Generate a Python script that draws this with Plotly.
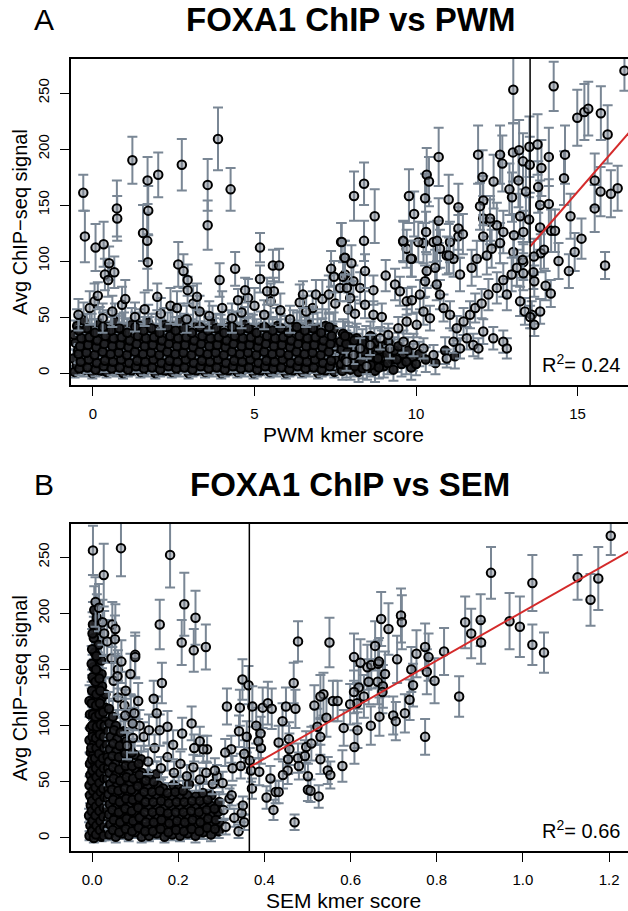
import plotly.graph_objects as go

# ------------------------------------------------------------------ data
# Panel A : FOXA1 ChIP vs PWM  (x = PWM kmer score, y = avg ChIP-seq signal, e = s.e.)
A_band_x = [
 -0.57,-0.50,-0.61,-0.46,-0.54,-0.59,-0.49,
 -0.27,-0.34,-0.22,-0.31,-0.25,-0.37,-0.29,
 -0.02,-0.09,0.02,-0.06,0.01,-0.11,-0.04,
 0.23,0.16,0.27,0.18,0.24,0.13,0.21,
 0.42,0.49,0.38,0.47,0.41,0.52,0.44,
 0.73,0.66,0.70,0.77,0.64,0.71,0.68,
 0.93,0.99,0.90,0.97,1.01,0.92,0.96,
 1.18,1.24,1.15,1.22,1.17,1.25,1.20,
 1.47,1.41,1.50,1.43,1.48,1.40,1.45,
 1.68,1.74,1.66,1.72,1.69,1.75,1.71,
 1.93,1.98,1.90,1.96,1.92,2.00,1.95,
 2.22,2.17,2.25,2.19,2.23,2.16,2.21,
 2.44,2.49,2.42,2.47,2.43,2.50,2.46,
 2.68,2.73,2.66,2.71,2.69,2.74,2.70,
 2.96,2.91,2.98,2.93,2.97,2.90,2.94,
 3.19,3.24,3.17,3.22,3.18,3.25,3.21,
 3.47,3.42,3.49,3.44,3.48,3.41,3.45,
 3.68,3.73,3.66,3.71,3.69,3.75,3.70,
 3.97,3.92,3.99,3.94,3.96,3.91,3.95,
 4.18,4.23,4.16,4.21,4.19,4.25,4.20,
 4.47,4.42,4.49,4.44,4.46,4.41,4.45,
 4.68,4.73,4.66,4.71,4.69,4.75,4.70,
 4.97,4.92,4.99,4.94,4.96,4.91,4.95,
 5.18,5.23,5.16,5.21,5.19,5.25,5.20,
 5.47,5.42,5.49,5.44,5.46,5.41,5.45,
 5.68,5.73,5.66,5.71,5.69,5.75,5.70,
 5.97,5.92,5.99,5.94,5.96,5.91,5.95,
 6.18,6.23,6.16,6.21,6.19,6.25,6.20,
 6.47,6.42,6.49,6.44,6.46,6.41,6.45,
 6.68,6.73,6.66,6.71,6.69,6.75,6.70,
 6.97,6.92,6.99,6.94,6.96,6.91,6.95,
 7.18,7.23,7.16,7.21,7.19,7.25,7.20,
 7.47,7.42,7.49,7.44,7.46,7.41,7.45,
]
A_band_y = [
 1,7,13,20,27,34,42,   3,10,16,23,30,38,47,   0,5,11,17,24,31,39,
 2,8,15,21,29,36,44,   1,6,12,19,26,33,41,   3,9,16,22,30,37,46,
 0,6,13,19,25,32,40,   2,8,14,21,28,35,43,   1,7,13,20,26,34,42,
 3,9,15,22,29,36,45,   0,5,12,18,25,32,39,   2,8,14,21,27,35,43,
 1,7,13,19,26,33,41,   3,9,16,22,29,37,46,   0,6,12,18,25,31,38,
 2,8,14,20,27,34,42,   1,7,13,19,26,33,40,   3,9,15,22,28,35,44,
 0,5,11,18,24,31,38,   2,8,14,20,27,34,41,   1,6,12,19,25,32,39,
 3,9,15,21,28,35,43,   0,6,12,18,24,31,38,   2,7,13,20,26,33,40,
 1,6,12,18,25,31,39,   3,9,15,21,28,34,42,   0,5,11,17,24,30,37,
 2,8,14,20,26,33,41,   1,7,13,19,25,32,40,   3,8,14,21,27,34,43,
 0,6,12,18,25,32,40,   2,7,13,19,26,33,42,   1,6,12,18,24,31,39,
]
A_band_e = [
 5,7,8,10,11,13,15,  6,7,9,10,12,14,16,  5,6,8,9,11,12,14,  4,6,7,9,10,12,15,
 5,7,8,10,11,13,15,  6,7,9,10,12,14,16,  5,6,8,9,11,12,14,  4,6,7,9,10,12,15,
 5,7,8,10,11,13,15,  6,7,9,10,12,14,16,  5,6,8,9,11,12,14,  4,6,7,9,10,12,15,
 5,7,8,10,11,13,15,  6,7,9,10,12,14,16,  5,6,8,9,11,12,14,  4,6,7,9,10,12,15,
 5,7,8,10,11,13,15,  6,7,9,10,12,14,16,  5,6,8,9,11,12,14,  4,6,7,9,10,12,15,
 5,7,8,10,11,13,15,  6,7,9,10,12,14,16,  5,6,8,9,11,12,14,  4,6,7,9,10,12,15,
 5,7,8,10,11,13,15,  6,7,9,10,12,14,16,  5,6,8,9,11,12,14,  4,6,7,9,10,12,15,
 5,7,8,10,11,13,15,  6,7,9,10,12,14,16,  5,6,8,9,11,12,14,  4,6,7,9,10,12,15,
 5,7,8,10,11,13,15,
]
A_band2_x = [
 -0.42,-0.38,-0.45,-0.40,-0.36,-0.44,  -0.17,-0.13,-0.20,-0.15,-0.11,-0.19,
 0.08,0.12,0.05,0.10,0.14,0.06,  0.33,0.37,0.30,0.35,0.39,0.31,
 0.58,0.62,0.55,0.60,0.64,0.56,  0.83,0.87,0.80,0.85,0.89,0.81,
 1.08,1.12,1.05,1.10,1.14,1.06,  1.33,1.37,1.30,1.35,1.39,1.31,
 1.58,1.62,1.55,1.60,1.64,1.56,  1.83,1.87,1.80,1.85,1.89,1.81,
 2.08,2.12,2.05,2.10,2.14,2.06,  2.33,2.37,2.30,2.35,2.39,2.31,
 2.58,2.62,2.55,2.60,2.64,2.56,  2.83,2.87,2.80,2.85,2.89,2.81,
 3.08,3.12,3.05,3.10,3.14,3.06,  3.33,3.37,3.30,3.35,3.39,3.31,
 3.58,3.62,3.55,3.60,3.64,3.56,  3.83,3.87,3.80,3.85,3.89,3.81,
 4.08,4.12,4.05,4.10,4.14,4.06,  4.33,4.37,4.30,4.35,4.39,4.31,
 4.58,4.62,4.55,4.60,4.64,4.56,  4.83,4.87,4.80,4.85,4.89,4.81,
 5.08,5.12,5.05,5.10,5.14,5.06,  5.33,5.37,5.30,5.35,5.39,5.31,
 5.58,5.62,5.55,5.60,5.64,5.56,  5.83,5.87,5.80,5.85,5.89,5.81,
 6.08,6.12,6.05,6.10,6.14,6.06,  6.33,6.37,6.30,6.35,6.39,6.31,
 6.58,6.62,6.55,6.60,6.64,6.56,  6.83,6.87,6.80,6.85,6.89,6.81,
 7.08,7.12,7.05,7.10,7.14,7.06,  7.33,7.37,7.30,7.35,7.39,7.31,
]
A_band2_y = [
 4,10,17,24,31,38,  5,12,18,25,32,40,  3,9,16,23,29,36,  6,11,19,26,33,41,
 4,10,17,24,31,38,  5,12,18,25,32,40,  3,9,16,23,29,36,  6,11,19,26,33,41,
 4,10,17,24,31,38,  5,12,18,25,32,40,  3,9,16,23,29,36,  6,11,19,26,33,41,
 4,10,17,24,31,38,  5,12,18,25,32,40,  3,9,16,23,29,36,  6,11,19,26,33,41,
 4,10,17,24,31,38,  5,12,18,25,32,40,  3,9,16,23,29,36,  6,11,19,26,33,41,
 4,10,17,24,31,38,  5,12,18,25,32,40,  3,9,16,23,29,36,  6,11,19,26,33,41,
 4,10,17,24,31,38,  5,12,18,25,32,40,  3,9,16,23,29,36,  6,11,19,26,33,41,
 4,10,17,24,31,38,  5,12,18,25,32,40,  3,9,16,23,29,36,  6,11,19,26,33,41,
]
A_band2_e = [
 6,7,8,10,11,12,  5,7,9,10,12,13,  6,6,8,9,11,12,  5,7,8,10,11,13,
 6,7,8,10,11,12,  5,7,9,10,12,13,  6,6,8,9,11,12,  5,7,8,10,11,13,
 6,7,8,10,11,12,  5,7,9,10,12,13,  6,6,8,9,11,12,  5,7,8,10,11,13,
 6,7,8,10,11,12,  5,7,9,10,12,13,  6,6,8,9,11,12,  5,7,8,10,11,13,
 6,7,8,10,11,12,  5,7,9,10,12,13,  6,6,8,9,11,12,  5,7,8,10,11,13,
 6,7,8,10,11,12,  5,7,9,10,12,13,  6,6,8,9,11,12,  5,7,8,10,11,13,
 6,7,8,10,11,12,  5,7,9,10,12,13,  6,6,8,9,11,12,  5,7,8,10,11,13,
 6,7,8,10,11,12,  5,7,9,10,12,13,  6,6,8,9,11,12,  5,7,8,10,11,13,
]
A_top_x = [-0.45,-0.10,0.30,0.60,0.90,1.30,1.60,2.10,2.40,2.90,3.30,3.60,4.00,4.30,4.60,
           5.00,5.30,5.80,6.10,6.40,6.80,7.10,7.50,0.05,1.00,2.60,3.10,4.80,5.50,6.60,7.30,7.90]
A_top_y = [52,58,49,55,61,50,57,53,60,48,55,51,58,49,54,60,52,56,48,63,58,66,62,64,66,58,62,67,64,55,70,57]
A_top_e = [14,15,13,14,16,13,15,14,16,12,14,13,15,13,14,16,13,15,12,16,15,17,16,16,17,15,16,17,16,14,17,15]

A_knee_x = [7.72,7.68,7.75,7.70,7.66,7.74, 7.97,7.93,8.00,7.95,7.91, 8.22,8.18,8.25,8.20,8.16,
            8.48,8.44,8.51,8.46, 8.73,8.69,8.76,8.71, 9.00,8.96,9.03, 9.30,9.27,9.33, 9.55,9.60, 9.85,9.90,
            7.85,7.82,7.88,7.84,7.80, 8.10,8.07,8.13,8.09, 8.35,8.32,8.38,8.34, 8.60,8.57,8.63,8.59,
            8.85,8.82,8.88, 9.12,9.10,9.15, 9.40,9.45, 9.70,9.75, 10.00,10.10, 10.30,10.60,10.90,11.20]
A_knee_y = [2,8,14,21,28,35, 3,10,17,24,32, 1,8,15,23,31, 4,12,20,29, 2,10,18,27, 6,14,24, 3,12,20, 8,17, 5,14,
            5,12,19,26,33, 6,13,21,29, 4,11,19,27, 7,15,23,33, 5,13,21, 9,17,28, 12,24, 10,20, 8,17, 12,9,20,15]
A_knee_e = [8,9,10,11,12,13, 9,10,11,12,13, 9,10,11,12,13, 10,11,12,13, 10,11,12,13, 10,11,13, 10,11,12, 11,12, 11,12,
            9,10,11,12,13, 9,10,11,12, 9,10,11,12, 10,11,12,13, 10,11,12, 10,11,12, 11,12, 11,12, 10,11, 11,10,12,11]

A_mid_x = [7.80,8.06,8.27,8.68,7.96,8.42,8.11,8.68,8.94,9.35,
 9.50,9.71,9.87,10.12,10.28,10.33,10.59,10.64,10.74,10.85,
 11.05,10.23,10.43,10.02,9.71,9.45,9.14,8.89,8.58,8.27,
 8.06,7.85,8.47,9.19,9.61,9.92,10.23,10.54,10.95,11.16,
 11.36,11.57,11.77,11.93,12.08,12.39,12.70,12.81,11.26,11.47,
 11.67,11.83,12.03,12.24,12.50,12.70,12.81,12.96,13.12,13.32,
 13.22,13.37,13.58,13.01,12.60,12.34,12.19,11.88,11.72,11.36,
 11.16,10.95,10.74,10.54,10.23,10.07,9.71,9.61,9.87,11.05,
 11.31,12.08,12.50,12.70,12.08,12.29]
A_mid_y = [88,82,76,74,67,61,53,52,50,79,
 73,64,65,70,82,91,94,79,70,58,
 52,55,49,43,46,40,34,31,25,22,
 16,10,6,22,28,25,22,16,13,28,
 22,31,25,22,37,31,28,22,40,46,
 52,58,62,70,76,83,70,88,94,99,
 64,55,52,108,116,111,105,102,94,88,
 102,105,111,117,116,117,111,117,102,117,
 122,122,132,126,138,135]
A_mid_e = [15,14,14,13,13,12,12,12,12,14,
 13,12,12,13,14,15,16,14,13,12,
 12,12,11,11,11,10,10,10,9,9,
 8,8,7,9,10,10,9,9,8,10,
 9,10,10,9,11,10,10,9,11,12,
 12,13,13,14,14,15,14,15,16,16,
 13,12,12,17,18,17,17,16,16,15,
 16,17,17,18,18,18,17,18,16,18,
 19,19,20,19,20,20]

A_hi_x = [-0.30,-0.25,0.08,0.33,0.50,0.37,0.47,0.66,0.15,0.74,
 0.75,1.22,1.55,1.69,1.71,1.68,1.70,2.02,1.99,2.75,
 2.64,2.80,2.93,2.93,3.22,3.55,3.55,3.87,4.26,3.92,
 4.40,5.17,5.17,5.57,5.76,5.60,5.39,4.71,4.49,6.90,
 6.50,7.37,7.68,7.78,7.46,7.65,7.74,7.86]
A_hi_y = [161,122,112,115,98,88,83,90,69,147,
 138,190,125,172,145,118,99,177,68,186,
 97,91,83,74,68,168,132,209,164,83,
 93,112,84,96,96,73,73,74,65,70,
 70,93,117,103,86,76,86,76]
A_hi_e = [16,23,21,20,15,14,15,14,12,25,
 20,21,25,21,22,25,25,20,12,23,
 20,15,14,12,12,23,22,28,19,15,
 15,13,12,14,15,12,12,11,10,13,
 12,16,17,15,14,12,13,12]

A_r_x = [8.39,8.08,8.72,8.39,7.70,7.80,8.00,8.42,9.06,9.60,
 9.84,9.78,9.94,10.28,10.31,10.33,10.40,10.70,10.70,10.65,
 11.01,11.31,11.31,11.45,11.02,11.92,12.06,12.08,11.98,12.40,
 12.29,12.60,12.67,13.01,13.00,13.19,13.31,13.52,13.51,13.17,
 12.89,12.97,13.40,13.50,13.22,13.03,13.32,13.30,13.32,13.63,
 13.76,13.88,14.11,13.78,13.84,14.11,13.84,14.18,14.30,13.86,
 13.96,14.41,13.65,13.66,14.01,14.17,13.84,13.53,13.66,14.26,
 14.61,14.58,14.78,15.12,14.91,14.73,15.85,14.99,15.21,15.33,
 15.72,15.93,15.53,15.53,15.71,16.03,16.24,16.45]
A_r_y = [169,158,140,118,117,103,98,91,87,118,
 102,158,142,156,126,177,171,193,136,118,
 155,148,129,124,105,195,175,154,149,171,
 138,195,187,253,197,199,189,186,202,172,
 164,157,162,137,140,123,126,101,89,90,
 204,183,193,166,150,151,130,127,127,107,
 110,100,104,82,78,71,55,50,43,256,
 195,174,140,120,108,91,96,228,233,236,
 232,213,172,147,162,160,165,270]
A_r_e = [19,22,24,18,17,15,16,15,14,18,
 16,24,20,22,18,24,22,26,20,18,
 22,21,19,18,16,26,24,22,21,24,
 20,26,25,30,26,27,25,25,27,24,
 23,22,23,20,20,19,19,16,15,15,
 27,25,26,23,22,22,20,19,19,17,
 17,16,16,14,13,12,11,10,10,22,
 26,24,20,18,17,15,12,25,25,24,
 24,26,24,21,22,21,20,18]

A_thresh = 13.53
A_fit_x = [13.53, 16.6]
A_fit_y = [113, 215]
A_r2 = "0.24"
A_xticks = [0, 5, 10, 15]
A_yticks = [0, 50, 100, 150, 200, 250]

# Panel B : FOXA1 ChIP vs SEM
B_col_x = [
 -0.006,-0.004,-0.007,-0.003,-0.005,-0.006,-0.004,-0.005,-0.003,-0.006,-0.004,-0.005,-0.006,
 0.004,0.003,0.005,0.004,0.002,0.005,0.003,0.004,0.006,0.003,0.004,0.002,0.005,0.004,0.003,0.005,0.004,0.003,0.006,0.004,0.002,0.005,
 0.013,0.012,0.014,0.013,0.011,0.014,0.012,0.013,0.015,0.012,0.013,0.011,0.014,0.013,0.012,0.014,0.013,0.012,0.015,0.013,0.011,
 0.022,0.021,0.023,0.022,0.020,0.023,0.021,0.022,0.024,0.021,0.022,0.020,0.023,0.022,0.021,0.023,0.022,0.021,
 0.031,0.030,0.032,0.031,0.029,0.032,0.030,0.031,0.033,0.030,0.031,0.029,0.032,0.031,
 0.000,0.001,-0.001,0.000,0.002,-0.001,0.001,0.000,-0.002,0.001,0.000,0.002,-0.001,0.000,0.001,-0.001,0.000,0.001,
 0.009,0.010,0.008,0.009,0.011,0.008,0.010,0.009,0.007,0.010,0.009,0.011,0.008,0.009,0.010,0.008,0.009,0.010,
 0.018,0.019,0.017,0.018,0.020,0.017,0.019,0.018,0.016,0.019,0.018,0.020,0.017,0.018,0.019,0.017,
 0.027,0.028,0.026,0.027,0.029,0.026,0.028,0.027,0.025,0.028,0.027,0.029,0.026,
 0.036,0.037,0.035,0.036,0.038,0.035,0.037,0.036,0.034,0.037,
]
B_col_y = [
 2,11,20,29,38,47,56,66,76,87,98,110,122,
 0,8,16,24,33,41,50,58,67,75,84,93,102,111,120,130,141,152,165,178,190,203,
 4,12,21,29,37,46,54,63,71,80,89,97,106,115,125,136,148,160,172,185,196,
 1,9,18,26,35,43,52,60,69,78,86,95,104,114,124,135,146,158,
 5,14,22,31,40,48,57,66,75,84,94,104,116,128,
 6,15,24,33,42,51,60,70,80,90,100,110,120,131,143,155,168,182,
 3,11,20,28,37,45,54,62,71,80,89,99,108,118,128,139,150,162,
 7,15,24,32,41,49,58,66,75,84,92,101,110,120,131,142,
 2,10,19,27,36,44,53,62,71,80,90,100,112,
 8,17,26,35,44,53,62,72,83,95,
]
B_col_e = [
 4,5,6,6,7,8,8,9,10,11,12,13,14,
 4,5,5,6,7,7,8,9,9,10,11,12,13,13,14,15,16,17,18,19,20,21,
 4,5,6,6,7,8,8,9,10,10,11,12,13,14,15,16,17,18,19,20,21,
 4,5,5,6,7,8,8,9,10,10,11,12,13,14,15,16,17,18,
 4,5,6,7,7,8,9,10,10,11,12,13,14,15,
 4,5,6,6,7,8,8,9,10,11,12,12,13,14,15,16,18,19,
 4,5,5,6,7,8,8,9,10,10,11,12,13,14,15,16,17,18,
 5,5,6,7,7,8,9,9,10,11,12,12,13,14,15,16,
 4,5,6,6,7,8,8,9,10,11,12,13,14,
 5,6,6,7,8,9,10,11,12,13,
]
B_band_x = [
 0.040,0.042,0.039,0.041,0.038,0.042,0.040,0.039,0.041,0.043,0.040,0.039,
 0.055,0.057,0.054,0.056,0.053,0.057,0.055,0.054,0.056,0.058,0.055,
 0.070,0.072,0.069,0.071,0.068,0.072,0.070,0.069,0.071,0.073,
 0.085,0.087,0.084,0.086,0.083,0.087,0.085,0.084,0.086,
 0.100,0.102,0.099,0.101,0.098,0.102,0.100,0.099,
 0.115,0.117,0.114,0.116,0.113,0.117,0.115,0.114,
 0.132,0.130,0.134,0.131,0.133,0.129,0.132,
 0.150,0.152,0.148,0.151,0.149,0.153,0.150,
 0.168,0.166,0.170,0.167,0.169,0.165,
 0.186,0.188,0.184,0.187,0.185,0.189,
 0.204,0.202,0.206,0.203,0.205,0.201,
 0.222,0.224,0.220,0.223,0.221,0.225,
 0.240,0.238,0.242,0.239,0.241,
 0.258,0.260,0.256,0.259,0.257,
 0.276,0.274,0.278,0.275,0.277,
 0.294,0.296,0.292,0.295,
 0.048,0.050,0.047,0.049,0.046,0.050,0.048,0.047,0.049,0.051,0.048,
 0.063,0.065,0.062,0.064,0.061,0.065,0.063,0.062,0.064,0.066,
 0.078,0.080,0.077,0.079,0.076,0.080,0.078,0.077,0.079,
 0.093,0.095,0.092,0.094,0.091,0.095,0.093,0.092,
 0.108,0.110,0.107,0.109,0.106,0.110,0.108,
 0.123,0.125,0.122,0.124,0.121,0.125,
 0.141,0.143,0.140,0.142,0.139,0.143,
 0.159,0.161,0.158,0.160,0.157,
 0.177,0.179,0.176,0.178,0.175,
 0.195,0.197,0.194,0.196,0.193,
 0.213,0.215,0.212,0.214,0.211,
 0.231,0.233,0.230,0.232,
 0.249,0.251,0.248,0.250,
 0.267,0.269,0.266,0.268,
 0.285,0.287,0.284,
]
B_band_y = [
 3,12,21,30,39,48,58,68,79,90,102,115,
 1,10,19,28,37,46,56,66,77,88,100,
 4,13,22,31,40,50,60,71,83,95,
 2,11,20,29,38,48,58,69,80,
 5,14,23,32,41,51,62,74,
 1,10,19,28,37,47,58,70,
 2,10,18,27,36,45,55,
 4,12,20,29,38,47,57,
 1,9,17,26,35,44,
 3,11,19,28,37,47,
 2,10,18,27,36,44,
 4,12,20,29,38,48,
 2,10,19,28,37,
 5,13,21,30,40,
 3,11,20,29,38,
 6,14,23,32,
 7,16,25,34,43,53,63,73,84,96,108,
 5,14,23,32,42,51,61,72,82,94,
 8,17,26,35,44,54,64,75,86,
 6,15,24,34,43,53,64,76,
 9,18,27,36,46,56,66,
 6,14,23,32,41,51,
 6,14,23,32,41,50,
 8,16,24,33,42,
 5,13,22,31,40,
 7,15,23,32,41,
 6,14,23,32,42,
 8,16,24,33,
 6,14,23,33,
 9,17,25,34,
 8,16,26,
]
B_band_e = [
 5,6,7,7,8,9,10,11,12,13,14,15,
 5,6,6,7,8,9,10,11,12,13,14,
 5,6,7,8,8,9,10,11,12,13,
 5,6,7,7,8,9,10,11,12,
 5,6,7,8,9,10,11,12,
 5,6,7,8,9,10,11,12,
 5,6,7,8,9,10,11,
 5,6,7,8,9,10,11,
 5,6,7,8,9,10,
 5,6,7,8,9,10,
 5,6,7,8,9,10,
 5,6,7,8,9,10,
 6,7,8,9,10,
 6,7,8,9,10,
 6,7,8,9,10,
 6,7,8,9,
 5,6,7,8,9,10,10,11,12,13,14,
 5,6,7,8,9,9,10,11,12,13,
 5,6,7,8,9,10,10,11,12,
 5,6,7,8,9,10,11,12,
 5,6,7,8,9,10,11,
 5,6,7,8,9,10,
 5,6,7,8,9,10,
 6,7,8,9,10,
 5,6,7,8,9,
 6,7,8,9,10,
 5,6,7,8,9,
 6,7,8,9,
 6,7,8,9,
 6,7,8,9,
 6,7,8,
]
B_ex_x = [0.060,0.075,0.050,0.045,0.035,0.028,0.130,0.160,0.190,0.220,
 0.250,0.280,0.145,0.175,0.205,0.235,0.265,0.290,0.120,0.110,
 0.090,0.060,0.047,0.024,0.008,0.016,0.310,0.330,0.340,0.305]
B_ex_y = [125,118,140,160,175,182,68,62,58,55,
 52,48,80,72,66,63,58,55,90,100,
 112,150,190,192,210,205,10,18,6,25]
B_ex_e = [15,14,16,18,19,20,11,10,10,10,
 10,9,12,12,11,11,10,10,13,14,
 15,17,20,20,22,21,7,8,6,9]

B_lo_x = [0.002,0.027,0.067,0.181,0.214,0.157,0.240,0.208,0.236,0.264,
 0.054,0.053,0.068,0.059,0.100,0.100,0.089,0.078,0.107,0.098,
 0.077,0.094,0.095,0.081,0.143,0.150,0.162,0.132,0.157,0.175,
 0.231,0.209,0.188,0.250,0.237,0.267,0.313,0.349,0.363,0.343,
 0.359,0.341,0.323,0.309,0.353,0.345,0.326,0.303,0.366,0.369,
 0.371,0.353,0.347,0.350,0.319,0.324,0.285,0.258]
B_lo_y = [256,234,258,252,208,190,196,174,167,170,
 186,177,157,144,163,161,146,131,122,111,
 109,102,89,82,124,111,138,96,96,99,
 102,93,83,86,80,79,117,141,136,116,
 90,95,79,76,75,64,62,49,69,60,
 44,14,22,29,35,38,60,79]
B_lo_e = [22,28,25,29,28,22,24,20,19,20,
 22,21,19,18,20,19,18,17,16,15,
 15,14,13,12,16,15,18,14,14,14,
 15,14,13,13,12,12,16,18,17,16,
 14,14,12,12,12,11,11,10,11,10,
 9,7,8,8,9,9,11,12]

B_r_x = [0.372,0.396,0.408,0.417,0.478,0.468,0.472,0.450,0.442,0.381,
 0.391,0.392,0.386,0.433,0.457,0.458,0.497,0.478,0.455,0.454,
 0.443,0.388,0.414,0.426,0.433,0.405,0.421,0.470,0.480,0.501,
 0.501,0.551,0.608,0.623,0.639,0.648,0.657,0.664,0.666,0.671,
 0.688,0.717,0.719,0.708,0.680,0.642,0.663,0.675,0.674,0.631,
 0.619,0.608,0.615,0.599,0.559,0.570,0.537,0.530,0.516,0.544,
 0.523,0.584,0.616,0.647,0.667,0.699,0.705,0.726,0.737,0.745,
 0.741,0.753,0.773,0.781,0.777,0.795,0.817,0.773,0.609,0.581,
 0.530,0.509,0.494,0.530,0.547,0.553,0.507,0.526,0.852,0.866,
 0.880,0.902,0.903,0.926,0.969,0.993,1.022,1.022,1.049,1.127,
 1.157,1.175,1.204]
B_r_y = [117,116,120,115,175,138,115,117,104,100,
 93,80,86,85,88,79,81,71,70,60,
 56,59,53,41,41,36,25,14,64,55,
 43,174,161,156,152,154,171,155,157,195,
 186,198,192,159,146,139,139,135,130,126,
 134,130,120,119,122,122,128,126,118,107,
 99,98,96,100,108,109,104,111,123,136,
 150,164,170,161,148,140,166,90,81,64,
 90,84,73,70,60,56,42,37,126,192,
 182,194,174,236,193,188,227,172,165,232,
 212,231,269]
B_r_e = [18,18,19,18,18,18,17,17,16,16,
 15,14,15,15,15,14,14,13,13,12,
 12,12,11,10,10,10,9,7,12,11,
 10,22,21,21,20,21,22,21,21,24,
 23,24,24,21,20,20,20,19,19,19,
 19,19,18,18,18,18,19,19,18,17,
 16,16,16,17,17,17,17,17,18,19,
 20,21,21,21,20,20,21,16,15,14,
 16,15,14,13,12,12,10,10,18,23,
 22,23,19,23,25,27,25,18,18,20,
 23,28,17]

B_thresh = 0.365
B_fit_x = [0.365, 1.25]
B_fit_y = [63, 256]
B_r2 = "0.66"
B_xticks = [0, 0.2, 0.4, 0.6, 0.8, 1.0, 1.2]
B_xticklabels = ["0.0", "0.2", "0.4", "0.6", "0.8", "1.0", "1.2"]
B_yticks = [0, 50, 100, 150, 200, 250]

for nm, a, b, c in [("A_band", A_band_x, A_band_y, A_band_e), ("A_band2", A_band2_x, A_band2_y, A_band2_e),
                    ("A_top", A_top_x, A_top_y, A_top_e),
                    ("A_knee", A_knee_x, A_knee_y, A_knee_e), ("A_mid", A_mid_x, A_mid_y, A_mid_e),
                    ("A_hi", A_hi_x, A_hi_y, A_hi_e), ("A_r", A_r_x, A_r_y, A_r_e),
                    ("B_col", B_col_x, B_col_y, B_col_e), ("B_band", B_band_x, B_band_y, B_band_e),
                    ("B_ex", B_ex_x, B_ex_y, B_ex_e), ("B_lo", B_lo_x, B_lo_y, B_lo_e),
                    ("B_r", B_r_x, B_r_y, B_r_e)]:
    assert len(a) == len(b) == len(c), (nm, len(a), len(b), len(c))

# ------------------------------------------------------------------ figure
W, H = 628, 911
FONT = "Liberation Sans, Arial, Helvetica, sans-serif"
PL = 71 / W


def ydom(top, bottom):
    return [1 - bottom / H, 1 - top / H]


fig = go.Figure()
# isolated points: open-looking grey-filled circles; dense clouds: heavily overplotted (dark)
MARK_SPARSE = dict(symbol="circle", size=8.5, color="rgba(130,136,146,0.5)",
                   line=dict(color="#000000", width=2))
MARK_DENSE = dict(symbol="circle", size=8.5, color="rgba(25,25,28,0.9)",
                  line=dict(color="#000000", width=2))


def pts(x, y, e, xa, ya, mark):
    fig.add_trace(go.Scatter(
        x=x, y=y, xaxis=xa, yaxis=ya, mode="markers", marker=mark,
        error_y=dict(type="data", array=e, visible=True, color="#7a8795", thickness=2, width=5),
        showlegend=False, hoverinfo="skip"))


for a, b, c, m in [(A_band_x, A_band_y, A_band_e, MARK_DENSE), (A_band2_x, A_band2_y, A_band2_e, MARK_DENSE),
                   (A_knee_x, A_knee_y, A_knee_e, MARK_DENSE),
                   (A_top_x, A_top_y, A_top_e, MARK_SPARSE), (A_mid_x, A_mid_y, A_mid_e, MARK_SPARSE),
                   (A_hi_x, A_hi_y, A_hi_e, MARK_SPARSE), (A_r_x, A_r_y, A_r_e, MARK_SPARSE)]:
    pts(a, b, c, "x", "y", m)
for a, b, c, m in [(B_col_x, B_col_y, B_col_e, MARK_DENSE), (B_band_x, B_band_y, B_band_e, MARK_DENSE),
                   (B_ex_x, B_ex_y, B_ex_e, MARK_SPARSE), (B_lo_x, B_lo_y, B_lo_e, MARK_SPARSE),
                   (B_r_x, B_r_y, B_r_e, MARK_SPARSE)]:
    pts(a, b, c, "x2", "y2", m)

fig.add_trace(go.Scatter(x=A_fit_x, y=A_fit_y, xaxis="x", yaxis="y", mode="lines",
                         line=dict(color="#d42a2a", width=2), showlegend=False, hoverinfo="skip"))
fig.add_trace(go.Scatter(x=B_fit_x, y=B_fit_y, xaxis="x2", yaxis="y2", mode="lines",
                         line=dict(color="#d42a2a", width=2), showlegend=False, hoverinfo="skip"))

AX = dict(showgrid=False, zeroline=False, showline=True, linecolor="black", linewidth=1.5,
          ticks="outside", ticklen=9, tickwidth=1.3, tickcolor="black",
          tickfont=dict(family=FONT, size=15, color="black"), ticklabelstandoff=5)

fig.update_layout(
    width=W, height=H, margin=dict(l=0, r=0, t=0, b=0),
    paper_bgcolor="white", plot_bgcolor="white", showlegend=False,
    xaxis=dict(AX, domain=[PL, 1], range=[-0.68, 16.56], tickvals=A_xticks, anchor="y", mirror=True),
    yaxis=dict(AX, domain=ydom(59, 385), range=[-10.7, 280.4], tickvals=A_yticks,
               tickangle=-90, anchor="x"),
    xaxis2=dict(AX, domain=[PL, 1], range=[-0.049, 1.244], tickvals=B_xticks,
                ticktext=B_xticklabels, anchor="y2", mirror=True),
    yaxis2=dict(AX, domain=ydom(524, 851), range=[-11.6, 279.5], tickvals=B_yticks,
                tickangle=-90, anchor="x2"),
)

for xr, yr, xv in [("x", "y domain", A_thresh), ("x2", "y2 domain", B_thresh)]:
    fig.add_shape(type="line", xref=xr, yref=yr, x0=xv, x1=xv, y0=0, y1=1,
                  line=dict(color="black", width=1.5), layer="above")


def ann(text, xpx, ypx, size, bold=False, angle=0, xanchor="center"):
    fig.add_annotation(text=f"<b>{text}</b>" if bold else text, xref="paper", yref="paper",
                       x=xpx / W, y=1 - ypx / H, xanchor=xanchor, yanchor="middle",
                       textangle=angle, showarrow=False,
                       font=dict(family=FONT, size=size, color="black"))


ann("A", 44, 20, 30)
ann("FOXA1 ChIP vs PWM", 350, 20, 33, bold=True)
ann("B", 44, 485, 30)
ann("FOXA1 ChIP vs SEM", 350, 485, 33, bold=True)
ann("PWM kmer score", 343, 434, 21)
ann("SEM kmer score", 343, 900, 21)
ann("Avg ChIP\u2212seq signal", 20, 222, 20, angle=-90)
ann("Avg ChIP\u2212seq signal", 20, 688, 20, angle=-90)
ann(f"R<sup>2</sup>= {A_r2}", 622, 364, 20, xanchor="right")
ann(f"R<sup>2</sup>= {B_r2}", 622, 829, 20, xanchor="right")

fig.write_html("out.html")
